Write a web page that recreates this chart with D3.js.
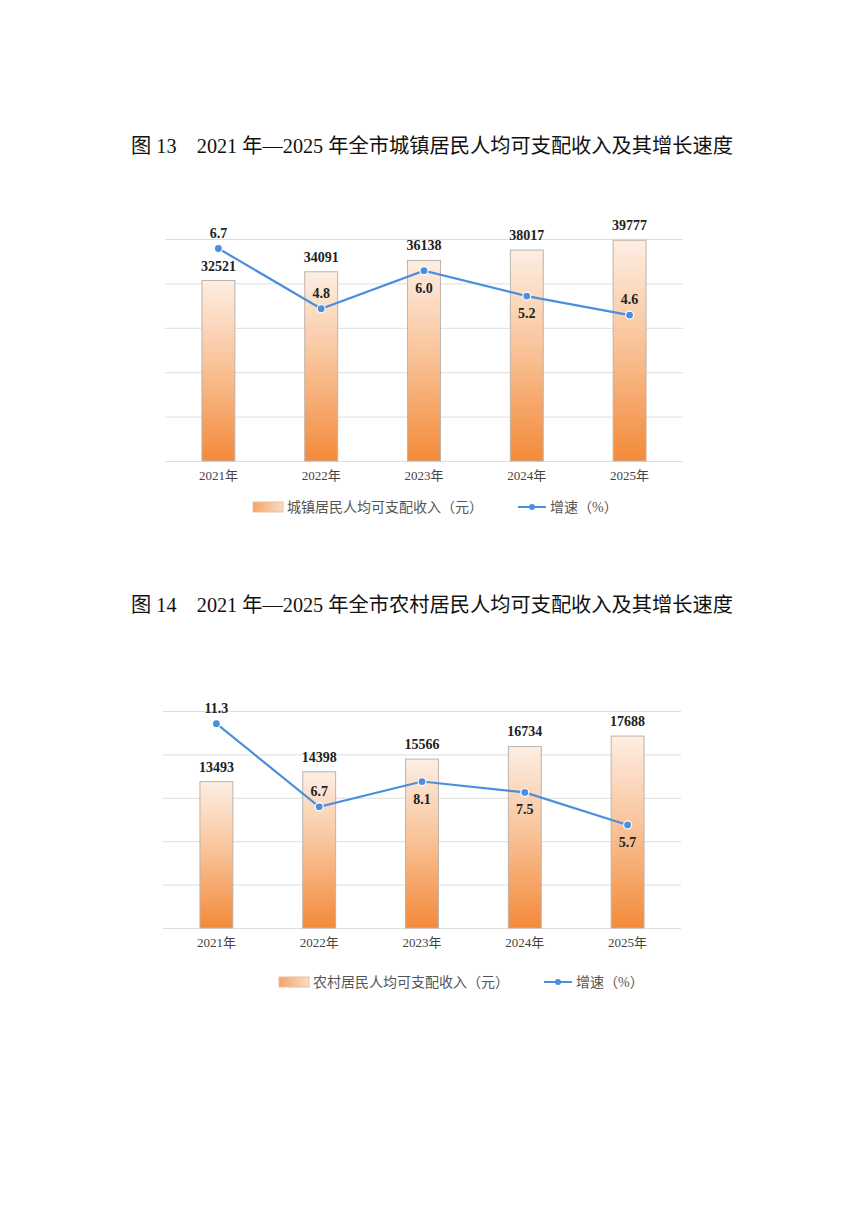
<!DOCTYPE html>
<html>
<head>
<meta charset="utf-8">
<script src="https://cdn.jsdelivr.net/npm/d3@7"></script>
<style>
  body { margin: 0; background: #fff; }
  svg { display: block; }
</style>
</head>
<body>
<svg id="page" width="865" height="1223"></svg>
<script>
// DATA
const years = ["2021年", "2022年", "2023年", "2024年", "2025年"];
const urbanIncome = [32521, 34091, 36138, 38017, 39777];
const urbanGrowth = [6.7, 4.8, 6.0, 5.2, 4.6];
const ruralIncome = [13493, 14398, 15566, 16734, 17688];
const ruralGrowth = [11.3, 6.7, 8.1, 7.5, 5.7];
// where each growth label sits relative to its point
const urbanGrowthPos = ["up", "up", "down", "down", "up"];
const ruralGrowthPos = ["up", "up", "down", "down", "down"];

const charts = [
  {
    title: "图 13　2021 年—2025 年全市城镇居民人均可支配收入及其增长速度",
    titleY: 153,
    income: urbanIncome, growth: urbanGrowth, growthPos: urbanGrowthPos,
    incomeMax: 40000, growthMax: 7,
    top: 239, bottom: 461, left: 167, right: 681,
    legendName: "城镇居民人均可支配收入（元）",
    legendY: 507, legendX: 253
  },
  {
    title: "图 14　2021 年—2025 年全市农村居民人均可支配收入及其增长速度",
    titleY: 612,
    income: ruralIncome, growth: ruralGrowth, growthPos: ruralGrowthPos,
    incomeMax: 20000, growthMax: 12,
    top: 711, bottom: 928, left: 165, right: 679,
    legendName: "农村居民人均可支配收入（元）",
    legendY: 982, legendX: 279
  }
];

const svg = d3.select("#page");
const serif = "'Liberation Serif', 'Noto Sans CJK SC', serif";
const cjk = "'Liberation Serif', 'Noto Sans CJK SC', sans-serif";

const defs = svg.append("defs");
const grad = defs.append("linearGradient")
  .attr("id", "barGrad")
  .attr("x1", 0).attr("y1", 0).attr("x2", 0).attr("y2", 1);
grad.append("stop").attr("offset", "0%").attr("stop-color", "#fdeee3");
grad.append("stop").attr("offset", "45%").attr("stop-color", "#f9c59c");
grad.append("stop").attr("offset", "100%").attr("stop-color", "#f38a3a");

const legGrad = defs.append("linearGradient")
  .attr("id", "legGrad")
  .attr("x1", 0).attr("y1", 0).attr("x2", 1).attr("y2", 0);
legGrad.append("stop").attr("offset", "0%").attr("stop-color", "#f4a266");
legGrad.append("stop").attr("offset", "100%").attr("stop-color", "#fcdcc4");

const lineColor = "#4a8fde";

function drawChart(c) {
  // title
  svg.append("text")
    .attr("x", 131)
    .attr("y", c.titleY)
    .attr("font-family", cjk)
    .attr("font-size", "20px")
    .attr("fill", "#111")
    .attr("textLength", 602)
    .attr("lengthAdjust", "spacingAndGlyphs")
    .text(c.title);

  const x = d3.scaleBand()
    .domain(years)
    .range([c.left, c.right])
    .paddingInner(0.68)
    .paddingOuter(0.34);

  const yBar = d3.scaleLinear().domain([0, c.incomeMax]).range([c.bottom, c.top]);
  const yLine = d3.scaleLinear().domain([0, c.growthMax]).range([c.bottom, c.top]);

  // grid
  const grid = svg.append("g")
    .attr("transform", `translate(${c.left - 2},0)`)
    .call(d3.axisLeft(yBar)
      .tickValues(d3.range(0, c.incomeMax + 1, c.incomeMax / 5))
      .tickSize(-(c.right - c.left + 4)).tickFormat(""));
  grid.select(".domain").remove();
  grid.selectAll("line").attr("stroke", "#dedede").attr("stroke-width", 1);

  // x axis labels
  const xa = svg.append("g")
    .attr("transform", `translate(0,${c.bottom})`)
    .call(d3.axisBottom(x).tickSize(0).tickPadding(10));
  xa.select(".domain").remove();
  xa.selectAll("text")
    .attr("font-family", serif)
    .attr("font-size", "13px")
    .attr("fill", "#444");

  // bars
  svg.append("g").selectAll("rect")
    .data(c.income)
    .join("rect")
    .attr("x", (d, i) => x(years[i]))
    .attr("y", d => yBar(d))
    .attr("width", x.bandwidth())
    .attr("height", d => c.bottom - yBar(d))
    .attr("fill", "url(#barGrad)")
    .attr("stroke", "#bdb3aa")
    .attr("stroke-width", 1);

  // bar labels
  svg.append("g").selectAll("text")
    .data(c.income)
    .join("text")
    .attr("x", (d, i) => x(years[i]) + x.bandwidth() / 2)
    .attr("y", d => yBar(d) - 10)
    .attr("text-anchor", "middle")
    .attr("font-family", serif)
    .attr("font-weight", "bold")
    .attr("font-size", "14px")
    .attr("fill", "#222")
    .text(d => d);

  // line
  const cx = (d, i) => x(years[i]) + x.bandwidth() / 2;
  const line = d3.line()
    .x((d, i) => cx(d, i))
    .y(d => yLine(d));
  svg.append("path")
    .datum(c.growth)
    .attr("d", line)
    .attr("fill", "none")
    .attr("stroke", lineColor)
    .attr("stroke-width", 2.2);

  svg.append("g").selectAll("circle")
    .data(c.growth)
    .join("circle")
    .attr("cx", cx)
    .attr("cy", d => yLine(d))
    .attr("r", 4)
    .attr("fill", lineColor)
    .attr("stroke", "#fff")
    .attr("stroke-width", 1.2);

  svg.append("g").selectAll("text")
    .data(c.growth)
    .join("text")
    .attr("x", cx)
    .attr("y", (d, i) => c.growthPos[i] === "up" ? yLine(d) - 11 : yLine(d) + 22)
    .attr("text-anchor", "middle")
    .attr("font-family", serif)
    .attr("font-weight", "bold")
    .attr("font-size", "14px")
    .attr("fill", "#222")
    .text(d => d.toFixed(1));

  // legend
  const lg = svg.append("g").attr("transform", `translate(${c.legendX},${c.legendY})`);
  lg.append("rect")
    .attr("x", 0).attr("y", -5)
    .attr("width", 30).attr("height", 10)
    .attr("fill", "url(#legGrad)")
    .attr("stroke", "#e8c0a0");
  lg.append("text")
    .attr("x", 34).attr("y", 5)
    .attr("font-family", cjk)
    .attr("font-size", "14px")
    .attr("fill", "#555")
    .text(c.legendName);
  const lx = 265;
  lg.append("line")
    .attr("x1", lx).attr("x2", lx + 28)
    .attr("y1", 0).attr("y2", 0)
    .attr("stroke", lineColor).attr("stroke-width", 2);
  lg.append("circle")
    .attr("cx", lx + 14).attr("cy", 0).attr("r", 3)
    .attr("fill", lineColor);
  lg.append("text")
    .attr("x", lx + 32).attr("y", 5)
    .attr("font-family", cjk)
    .attr("font-size", "14px")
    .attr("fill", "#555")
    .text("增速（%）");
}

charts.forEach(drawChart);
</script>
</body>
</html>
